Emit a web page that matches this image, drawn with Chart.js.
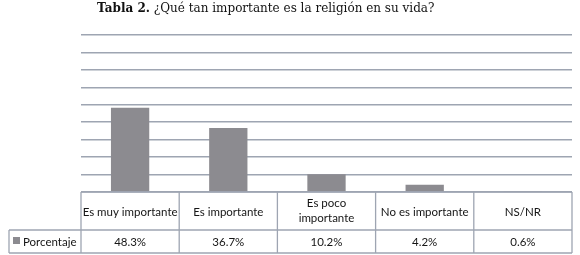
<!DOCTYPE html>
<html>
<head>
<meta charset="utf-8">
<script src="https://cdn.jsdelivr.net/npm/chart.js@4.4.1/dist/chart.umd.min.js"></script>
<style>
    html, body { margin: 0; padding: 0; background: #fff; }
    #wrap { position: relative; width: 580px; height: 255px; }
</style>
</head>
<body>
<div id="wrap"><canvas id="chart" width="580" height="255"></canvas></div>
<script>
// Data
const categories = ['Es muy importante', 'Es importante', ['Es poco', 'importante'], 'No es importante', 'NS/NR'];
const porcentaje = [48.3, 36.7, 10.2, 4.2, 0.6];
const seriesName = 'Porcentaje';
const yTicks = [0, 10, 20, 30, 40, 50, 60, 70, 80, 90];

const titleBold = 'Tabla 2.';
const titleRest = ' ¿Qué tan importante es la religión en su vida?';

const barColor = '#8c8b90';
const lineColor = '#9ea5b2';
const textColor = '#151515';
const tableFont = '11.5px Lato, "Open Sans", sans-serif';

// Draws the title and the data table under the plot
const tablePlugin = {
    id: 'dataTable',
    afterDraw(chart) {
        const ctx = chart.ctx;
        const area = chart.chartArea;
        const xScale = chart.scales.x;
        const n = categories.length;
        const half = area.width / n / 2;
        const top = area.bottom;
        const mid = 230;
        const bottom = 253;
        const legendLeft = 9;

        ctx.save();

        // title
        ctx.fillStyle = '#111';
        ctx.textBaseline = 'alphabetic';
        ctx.textAlign = 'left';
        ctx.font = 'bold 12px "DejaVu Serif", serif';
        const tx = 97;
        ctx.fillText(titleBold, tx, 12);
        const bw = ctx.measureText(titleBold).width;
        ctx.font = '12px "DejaVu Serif", serif';
        ctx.fillText(titleRest, tx + bw, 12);

        // table grid
        ctx.strokeStyle = lineColor;
        ctx.lineWidth = 1.3;
        ctx.beginPath();
        ctx.moveTo(area.left, top);
        ctx.lineTo(area.right, top);
        ctx.moveTo(legendLeft, mid);
        ctx.lineTo(area.right, mid);
        ctx.moveTo(legendLeft, bottom);
        ctx.lineTo(area.right, bottom);
        ctx.moveTo(legendLeft, mid);
        ctx.lineTo(legendLeft, bottom);
        for (let i = 0; i < n; i++) {
            const cx = xScale.getPixelForValue(i);
            ctx.moveTo(cx - half, top);
            ctx.lineTo(cx - half, bottom);
        }
        ctx.moveTo(area.right, top);
        ctx.lineTo(area.right, bottom);
        ctx.stroke();

        // header labels and values
        ctx.fillStyle = textColor;
        ctx.font = tableFont;
        ctx.textAlign = 'center';
        ctx.textBaseline = 'middle';
        for (let i = 0; i < n; i++) {
            const cx = xScale.getPixelForValue(i);
            const label = categories[i];
            if (Array.isArray(label)) {
                const lh = 15;
                const y0 = (top + mid) / 2 - (label.length - 1) * lh / 2;
                label.forEach((line, j) => ctx.fillText(line, cx, y0 + j * lh));
            } else {
                ctx.fillText(label, cx, (top + mid) / 2 + 1);
            }
            ctx.fillText(porcentaje[i].toFixed(1) + '%', cx, (mid + bottom) / 2 + 1);
        }

        // legend cell
        ctx.fillStyle = barColor;
        ctx.fillRect(13, 237, 7, 7);
        ctx.fillStyle = textColor;
        ctx.textAlign = 'left';
        ctx.fillText(seriesName, 23, (mid + bottom) / 2 + 1);

        ctx.restore();
    }
};

new Chart(document.getElementById('chart'), {
    type: 'bar',
    data: {
        labels: categories,
        datasets: [{
            label: seriesName,
            data: porcentaje,
            backgroundColor: barColor,
            borderWidth: 0,
            barPercentage: 0.39,
            categoryPercentage: 1
        }]
    },
    options: {
        responsive: false,
        animation: false,
        layout: {
            padding: { left: 81, right: 8, top: 35, bottom: 63 }
        },
        plugins: {
            legend: { display: false },
            tooltip: { enabled: false }
        },
        scales: {
            x: {
                display: false
            },
            y: {
                min: yTicks[0],
                max: yTicks[yTicks.length - 1],
                afterBuildTicks: s => { s.ticks = yTicks.map(v => ({ value: v })); },
                afterFit: s => { s.width = 0; },
                ticks: { display: false },
                border: { display: false },
                grid: {
                    color: lineColor,
                    lineWidth: 1.5,
                    drawTicks: false
                }
            }
        }
    },
    plugins: [tablePlugin]
});
</script>
</body>
</html>
